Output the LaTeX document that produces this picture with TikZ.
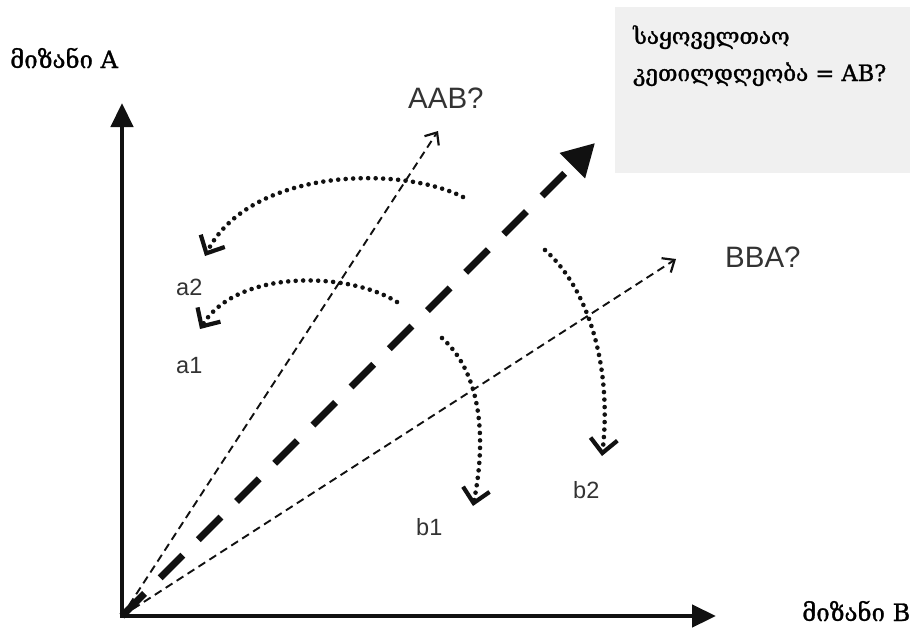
\documentclass[tikz,border=0pt]{standalone}
\usepackage{fontspec}
\setmainfont{Liberation Serif}
\newfontfamily\geo[FakeBold=1.2]{DejaVu Serif}
\newfontfamily\lsans{Liberation Sans}
\usetikzlibrary{arrows.meta}
\definecolor{boxgray}{HTML}{F0F0F0}
\definecolor{ink}{HTML}{111111}
\definecolor{labelgray}{HTML}{333333}
\begin{document}
\begin{tikzpicture}[x=1pt,y=-1pt,
  axis/.style={line width=4.5pt, draw=ink, line join=miter,
    {Triangle[length=24pt,width=22pt]}-{Triangle[length=24pt,width=22pt]}},
  thindash/.style={line width=1.9pt, draw=ink, dash pattern=on 8pt off 5pt,
    -{Straight Barb[length=10pt,width=17pt,line width=2.2pt]}},
  bigdash/.style={line width=7pt, draw=ink, dash pattern=on 32pt off 22pt,
    -{Triangle[length=32pt,width=34pt]}},
  dotarc/.style={line width=4.6pt, draw=ink, line cap=round, dash pattern=on 0pt off 7.5pt,
    -{Straight Barb[length=14pt,width=27pt,line width=4.2pt]}},
  geolabel/.style={font=\geo\fontsize{24}{28}\selectfont, anchor=base west, inner sep=0pt},
  boxlabel/.style={font=\geo\fontsize{22.5}{26}\selectfont, anchor=base west, inner sep=0pt},
  sanslabel/.style={font=\lsans\fontsize{29.5}{32}\selectfont, text=labelgray, anchor=base west, inner sep=0pt},
  smalllabel/.style={font=\lsans\fontsize{23.5}{26}\selectfont, text=labelgray, anchor=base west, inner sep=0pt}
]
\useasboundingbox (0,0) rectangle (910,630);

% gray box
\node (box) [fill=boxgray, minimum width=295pt, minimum height=166pt, anchor=north west, inner sep=0pt] at (615,7) {};
\node (boxl1) [boxlabel] at (633,44) {საყოველთაო};
\node (boxl2) [boxlabel] at (633,81) {კეთილდღეობა = AB?};

% axes
\coordinate (O) at (122,616);
\coordinate (Ytip) at (122,103);
\coordinate (Xtip) at (716,616);
\draw[axis] (Ytip) -- (O) -- (Xtip);
\node (ylab) [geolabel] at (10,68) {მიზანი A};
\node (xlab) [geolabel] at (802,621) {მიზანი B};

% rays
\coordinate (AABtip) at (438,131);
\coordinate (BBAtip) at (676,259);
\coordinate (Bigtip) at (595,143);
\draw[thindash] (O) -- (AABtip);
\draw[thindash] (O) -- (BBAtip);
\draw[bigdash] (O) -- (Bigtip);
\node (aab) [sanslabel] at (408,108) {AAB?};
\node (bba) [sanslabel] at (725,267) {BBA?};

% dotted arcs
\coordinate (a2s) at (463,197);
\coordinate (a2e) at (205,256);
\coordinate (a1s) at (397,302);
\coordinate (a1e) at (200,329);
\coordinate (b1s) at (442,338);
\coordinate (b1e) at (473,506);
\coordinate (b2s) at (545,250);
\coordinate (b2e) at (602,456);
\draw[dotarc] (a2s) .. controls (400,165) and (250,168) .. (a2e);
\draw[dotarc] (a1s) .. controls (350,272) and (238,268) .. (a1e);
\draw[dotarc] (b1s) .. controls (478,370) and (488,430) .. (b1e);
\draw[dotarc] (b2s) .. controls (590,290) and (612,370) .. (b2e);

\node (la2) [smalllabel] at (176,295) {a2};
\node (la1) [smalllabel] at (176,373) {a1};
\node (lb1) [smalllabel] at (416,535) {b1};
\node (lb2) [smalllabel] at (573,498) {b2};
\end{tikzpicture}
\end{document}
